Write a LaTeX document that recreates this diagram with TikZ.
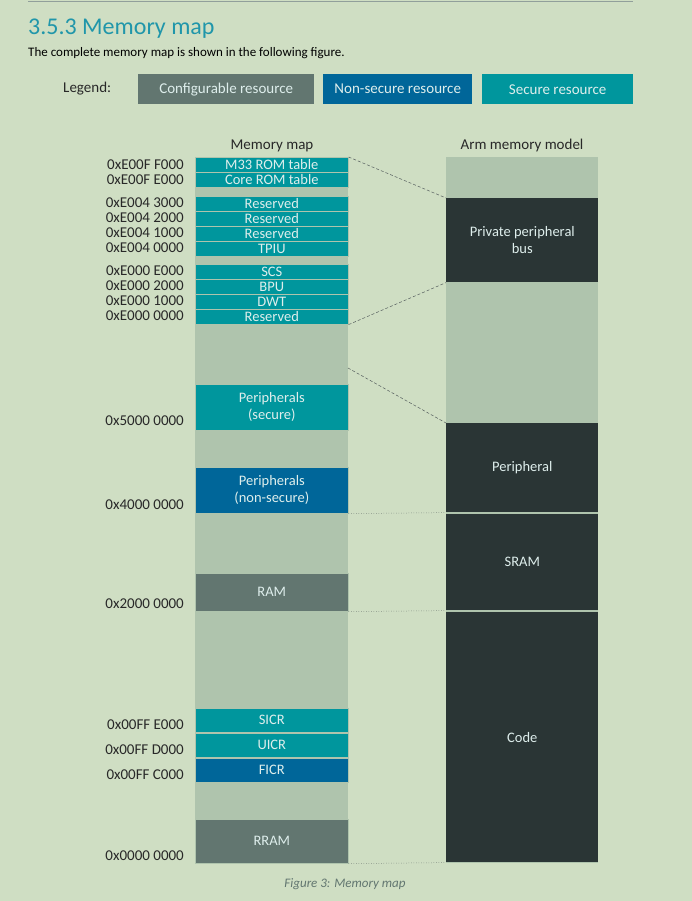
\documentclass[tikz,border=0pt]{standalone}
\usepackage{fontspec}
\setmainfont{Carlito}
\usetikzlibrary{positioning}
\definecolor{pagebg}{RGB}{207,222,195}
\definecolor{colbg}{RGB}{175,196,173}
\definecolor{secure}{RGB}{0,150,157}
\definecolor{nonsec}{RGB}{0,102,153}
\definecolor{config}{RGB}{98,118,112}
\definecolor{darkblk}{RGB}{42,53,53}
\definecolor{boxtext}{RGB}{222,238,236}
\definecolor{addrtext}{RGB}{40,40,40}
\definecolor{titlecol}{RGB}{32,150,170}

\begin{document}
\begin{tikzpicture}[x=1pt, y=-1pt,
					blk/.style={draw=colbg, line width=0.6pt, anchor=north west, inner sep=0pt,
						minimum width=153pt, text=boxtext, font=\fontsize{14.5}{17}\selectfont,
						align=center},
					addr/.style={anchor=east, inner sep=0pt, text=addrtext, font=\fontsize{15}{16}\selectfont},
					legbox/.style={anchor=north west, inner sep=0pt, minimum height=30pt,
						text=boxtext, font=\fontsize{15}{16}\selectfont},
					link/.style={draw=darkblk!80, densely dashed, line width=0.5pt}
					]
					\useasboundingbox[fill=pagebg] (0,0) rectangle (692,901);
					\draw[config!70, line width=1pt] (28,2) -- (633,2);
					
					% heading and legend
					\node[anchor=west, inner sep=0pt, text=titlecol, font=\fontsize{24}{26}\selectfont] (title) at (28,29) {3.5.3 Memory map};
					\node[anchor=west, inner sep=0pt, font=\fontsize{13}{14}\selectfont] (intro) at (28,53) {The complete memory map is shown in the following figure.};
					\node[anchor=west, inner sep=0pt, text=addrtext, font=\fontsize{15}{16}\selectfont] (legend) at (63,89) {Legend:};
					\node[legbox, fill=config, minimum width=176pt] (legcfg) at (138,74) {Configurable resource};
					\node[legbox, fill=nonsec, minimum width=149pt] (legns) at (323,74) {Non-secure resource};
					\node[legbox, fill=secure, minimum width=151pt] (legsec) at (482,74) {Secure resource};
					
					% column headings
					\node[text=addrtext, font=\fontsize{15}{16}\selectfont] (mmhead) at (272,146) {Memory map};
					\node[text=addrtext, font=\fontsize{15}{16}\selectfont] (armhead) at (522,146) {Arm memory model};
					
					% backgrounds
					\fill[colbg] (195,157) rectangle (348,863);
					\fill[colbg] (446,157) rectangle (598,863);
					
					% memory map blocks
					\node[blk, fill=secure, minimum height=15pt] (rom33) at (195,157) {M33 ROM table};
					\node[blk, fill=secure, minimum height=15pt] (romcore) at (195,172) {Core ROM table};
					\node[blk, fill=secure, minimum height=15pt] (res3) at (195,196) {Reserved};
					\node[blk, fill=secure, minimum height=15pt] (res2) at (195,211) {Reserved};
					\node[blk, fill=secure, minimum height=15pt] (res1) at (195,226) {Reserved};
					\node[blk, fill=secure, minimum height=15pt] (tpiu) at (195,241) {TPIU};
					\node[blk, fill=secure, minimum height=15pt] (scs) at (195,264) {SCS};
					\node[blk, fill=secure, minimum height=15pt] (bpu) at (195,279) {BPU};
					\node[blk, fill=secure, minimum height=15pt] (dwt) at (195,294) {DWT};
					\node[blk, fill=secure, minimum height=15pt] (res0) at (195,309) {Reserved};
					\node[blk, fill=secure, minimum height=46pt] (persec) at (195,384) {Peripherals\\(secure)};
					\node[blk, fill=nonsec, minimum height=46pt] (perns) at (195,467) {Peripherals\\(non-secure)};
					\node[blk, fill=config, minimum height=38pt] (ram) at (195,573) {RAM};
					\node[blk, fill=secure, minimum height=24pt] (sicr) at (195,708) {SICR};
					\node[blk, fill=secure, minimum height=24pt] (uicr) at (195,733) {UICR};
					\node[blk, fill=nonsec, minimum height=24pt] (ficr) at (195,758) {FICR};
					\node[blk, fill=config, minimum height=44pt] (rram) at (195,819) {RRAM};
					
					% addresses
					\node[addr] (a1) at (184,165) {0xE00F F000};
					\node[addr] (a2) at (184,180) {0xE00F E000};
					\node[addr] (a3) at (184,203) {0xE004 3000};
					\node[addr] (a4) at (184,218) {0xE004 2000};
					\node[addr] (a5) at (184,233) {0xE004 1000};
					\node[addr] (a6) at (184,248) {0xE004 0000};
					\node[addr] (a7) at (184,271) {0xE000 E000};
					\node[addr] (a8) at (184,286) {0xE000 2000};
					\node[addr] (a9) at (184,301) {0xE000 1000};
					\node[addr] (a10) at (184,316) {0xE000 0000};
					\node[addr] (a11) at (184,421) {0x5000 0000};
					\node[addr] (a12) at (184,505) {0x4000 0000};
					\node[addr] (a13) at (184,604) {0x2000 0000};
					\node[addr] (a14) at (184,725) {0x00FF E000};
					\node[addr] (a15) at (184,750) {0x00FF D000};
					\node[addr] (a16) at (184,775) {0x00FF C000};
					\node[addr] (a17) at (184,856) {0x0000 0000};
					
					% arm memory model
					\node[blk, draw=none, fill=darkblk, minimum width=152pt, minimum height=84pt] (ppb) at (446,198) {Private peripheral\\bus};
					\node[blk, draw=none, fill=darkblk, minimum width=152pt, minimum height=89pt] (periph) at (446,423) {Peripheral};
					\node[blk, draw=none, fill=darkblk, minimum width=152pt, minimum height=96pt] (sram) at (446,514) {SRAM};
					\node[blk, draw=none, fill=darkblk, minimum width=152pt, minimum height=250pt] (code) at (446,612) {Code};
					\coordinate (gapend) at (348,368);
					
					% links
					\draw[link] (rom33.north east) -- (ppb.north west);
					\draw[link] (res0.south east) -- (ppb.south west);
					\draw[link] (gapend) -- (periph.north west);
					\draw[link, dotted] (perns.south east) -- (periph.south west);
					\draw[link, dotted] (ram.south east) -- (sram.south west);
					\draw[link, dotted] (rram.south east) -- (code.south west);
					
					\node[text=config, font=\fontsize{13}{14}\selectfont\itshape] (caption) at (345,884) {Figure 3: Memory map};
				\end{tikzpicture}
\end{document}
